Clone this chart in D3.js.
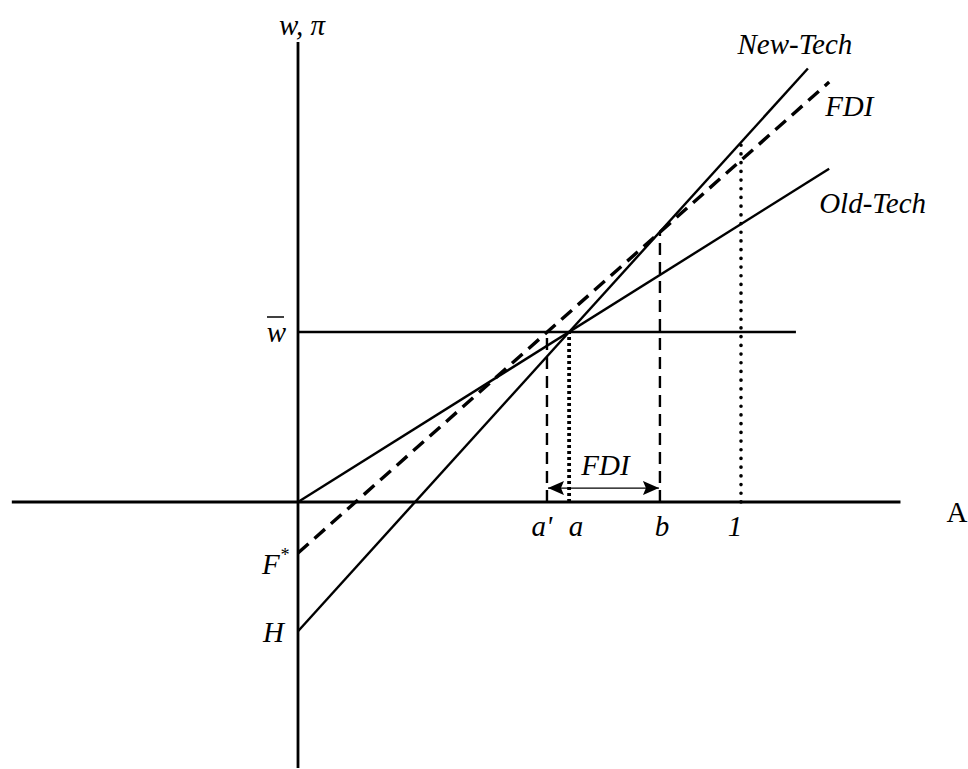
<!DOCTYPE html>
<html>
<head>
<meta charset="utf-8">
<script src="https://cdn.jsdelivr.net/npm/d3@7"></script>
<style>
  body { margin: 0; background: #fff; }
  svg { display: block; }
  .lbl { font-family: "Times New Roman", "Liberation Serif", serif; font-size: 29px; font-style: italic; fill: #000; }
  .up { font-style: normal; }
</style>
</head>
<body>
<div id="chart"></div>
<script>
// A axis marks (value of A) and their labels
const markLabels = ["a'", "a", "b", "1"];
const markA = [0.562, 0.612, 0.817, 1];
const markTop = [1, 1, 1.59, 2.12];            // where each guide stops (w, pi units)
const markStyle = ["dash", "dot", "dash", "dot2"];

// profit lines: value at A = 0, and end point
const techNames = ["New-Tech", "FDI", "Old-Tech"];
const techStart = [-0.76, -0.3, 0];
const techEndA = [1.151, 1.199, 1.199];
const techEndVal = [2.55, 2.47, 1.96];

// reservation wage
const wBar = 1;
const wBarEnd = 1.124;

// axis extents
const aRange = [-0.646, 1.36];
const vRange = [-1.565, 2.706];
const arrowVal = 0.082;

const width = 968, height = 769;

const svg = d3.select("#chart").append("svg")
    .attr("width", width)
    .attr("height", height);

const x = d3.scaleLinear().domain([0, 1]).range([298, 741]);
const y = d3.scaleLinear().domain([0, 1]).range([502, 332]);

// Axes
svg.append("line")
    .attr("x1", x(aRange[0])).attr("x2", x(aRange[1]))
    .attr("y1", y(0)).attr("y2", y(0))
    .attr("stroke", "#000").attr("stroke-width", 2.8);

svg.append("line")
    .attr("x1", x(0)).attr("x2", x(0))
    .attr("y1", y(vRange[0])).attr("y2", y(vRange[1]))
    .attr("stroke", "#000").attr("stroke-width", 2.8);

svg.append("text").attr("class", "lbl up")
    .attr("x", 957).attr("y", y(0) + 20)
    .attr("text-anchor", "middle")
    .text("A");

svg.append("text").attr("class", "lbl")
    .attr("x", x(0) + 4).attr("y", 35)
    .attr("text-anchor", "middle")
    .text("w, π");

// w bar line
svg.append("line")
    .attr("x1", x(0)).attr("x2", x(wBarEnd))
    .attr("y1", y(wBar)).attr("y2", y(wBar))
    .attr("stroke", "#000").attr("stroke-width", 2.4);

svg.append("text").attr("class", "lbl")
    .attr("x", x(0) - 12).attr("y", y(wBar) + 10)
    .attr("text-anchor", "end")
    .text("w");
svg.append("line")
    .attr("x1", x(0) - 31).attr("x2", x(0) - 14)
    .attr("y1", y(wBar) - 15).attr("y2", y(wBar) - 15)
    .attr("stroke", "#000").attr("stroke-width", 1.5);

// guide lines at a', a, b, 1
const dashes = { dash: "12,7", dot: "3,3", dot2: "0.1,8.6" };
const widths = { dash: 2.4, dot: 3.8, dot2: 3.6 };
markA.forEach((v, i) => {
    const s = markStyle[i];
    svg.append("line")
        .attr("x1", x(v)).attr("x2", x(v))
        .attr("y1", y(0)).attr("y2", y(markTop[i]))
        .attr("stroke", "#000")
        .attr("stroke-width", widths[s])
        .attr("stroke-linecap", s === "dot2" ? "round" : "butt")
        .attr("stroke-dasharray", dashes[s]);
});

const nudge = [-5, 7, 2, -6];
svg.selectAll("text.tick")
    .data(markLabels)
    .join("text")
    .attr("class", "lbl tick")
    .attr("x", (d, i) => x(markA[i]) + nudge[i])
    .attr("y", y(0) + 34)
    .attr("text-anchor", "middle")
    .text(d => d);

// tech lines
const lineGen = d3.line().x(d => x(d[0])).y(d => y(d[1]));
techNames.forEach((name, i) => {
    const pts = [[0, techStart[i]], [techEndA[i], techEndVal[i]]];
    svg.append("path")
        .attr("d", lineGen(pts))
        .attr("fill", "none")
        .attr("stroke", "#000")
        .attr("stroke-width", name === "FDI" ? 3.4 : 2.4)
        .attr("stroke-dasharray", name === "FDI" ? "14,8" : null);
});

// line labels, placed off each end point
const labelOff = { "New-Tech": [-13, -15, "middle"], "FDI": [-4, 34, "start"], "Old-Tech": [-10, 44, "start"] };
techNames.forEach((name, i) => {
    const o = labelOff[name];
    svg.append("text").attr("class", "lbl")
        .attr("x", x(techEndA[i]) + o[0])
        .attr("y", y(techEndVal[i]) + o[1])
        .attr("text-anchor", o[2])
        .text(name);
});

// intercept labels
const fStar = svg.append("text").attr("class", "lbl")
    .attr("x", x(0) - 36).attr("y", y(techStart[1]) + 21);
fStar.append("tspan").text("F");
fStar.append("tspan").attr("dy", -13).attr("font-size", 18).text("*");

svg.append("text").attr("class", "lbl")
    .attr("x", x(0) - 14).attr("y", y(techStart[0]) + 11)
    .attr("text-anchor", "end")
    .text("H");

// FDI range arrow
const defs = svg.append("defs");
defs.append("marker")
    .attr("id", "head")
    .attr("viewBox", "0 0 16 14")
    .attr("refX", 16).attr("refY", 7)
    .attr("markerWidth", 16).attr("markerHeight", 14)
    .attr("markerUnits", "userSpaceOnUse")
    .attr("orient", "auto-start-reverse")
    .append("path")
    .attr("d", "M0,0 L16,7 L0,14 L3,7 Z")
    .attr("fill", "#000");

svg.append("line")
    .attr("x1", x(markA[0]) + 1).attr("x2", x(markA[2]) - 1)
    .attr("y1", y(arrowVal)).attr("y2", y(arrowVal))
    .attr("stroke", "#000").attr("stroke-width", 1.3)
    .attr("marker-start", "url(#head)")
    .attr("marker-end", "url(#head)");

svg.append("text").attr("class", "lbl")
    .attr("x", (x(markA[0]) + x(markA[2])) / 2 + 2)
    .attr("y", y(arrowVal) - 13)
    .attr("text-anchor", "middle")
    .text("FDI");
</script>
</body>
</html>
